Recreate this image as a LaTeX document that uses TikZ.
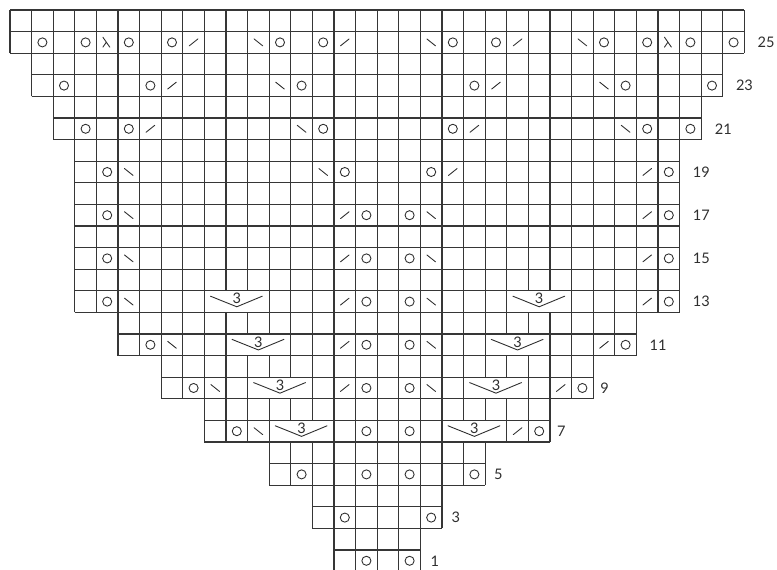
\documentclass[tikz,border=0pt]{standalone}
\usepackage{fontspec}
\setmainfont{Lato}
\usepackage{xcolor}
\definecolor{ink}{HTML}{2E2E2E}
\definecolor{rule}{HTML}{363636}
\tikzset{
  every node/.style={font=\fontsize{11.5}{13}\selectfont,text=ink,inner sep=0pt},
  gridline/.style={draw=rule,line width=0.85pt,step=1},
  symb/.style={draw=ink,line width=0.7pt,line cap=round},
  rowlabel/.style={anchor=west},
  yo/.pic={\draw[symb] (0,0) circle (0.21);},
  ktwotog/.pic={\draw[symb] (-0.2,-0.16) -- (0.2,0.16);},
  sskdec/.pic={\draw[symb] (-0.2,0.16) -- (0.2,-0.16);},
  skpdec/.pic={\draw[symb] (-0.2,0.24) -- (0.12,-0.22) (-0.04,0.01) -- (-0.2,-0.22);},
}
% 3-stitch block: #1 first column, #2 row
\newcommand{\threeblock}[2]{%
  \draw[gridline,fill=white] (#1,#2-1) rectangle ++(3,1);
  \draw[symb] (#1+0.28,#2-0.25) -- (#1+1.5,#2-0.74) -- (#1+2.68,#2-0.25);
  \node (blk#1x#2) at (#1+1.5,#2-0.37) {3};
}

\begin{document}
\begin{tikzpicture}[x=6mm,y=6mm]
\useasboundingbox (-0.463,0.074) rectangle (35.51,26.463);
\clip (-0.463,0.074) rectangle (35.51,26.463);

% grid, two rows at a time, with row numbers
\foreach \r/\lft/\rgt/\off in {1/15/19/0.46,3/14/20/0.43,5/12/22/0.4,7/9/25/0.32,9/7/27/0.32,
  11/5/29/0.6,13/3/31/0.6,15/3/31/0.6,17/3/31/0.6,19/3/31/0.6,21/2/32/0.62,23/1/33/0.6,25/0/34/0.6}{
  \draw[gridline] (\lft,\r-1) grid (\rgt,\r+1);
  \node[rowlabel] (row\r) at (\rgt+\off,\r-0.5) {\r};
}

% 3-stitch blocks
\foreach \c/\r in {9/13,23/13,10/11,22/11,11/9,21/9,12/7,20/7}{
  \threeblock{\c}{\r}
}

% yarn overs
\foreach \c/\r in {1/25,3/25,5/25,7/25,12/25,14/25,20/25,22/25,27/25,29/25,31/25,33/25,
  2/23,6/23,13/23,21/23,28/23,32/23,
  3/21,5/21,14/21,20/21,29/21,31/21,
  4/19,15/19,19/19,30/19,
  4/17,16/17,18/17,30/17,
  4/15,16/15,18/15,30/15,
  4/13,16/13,18/13,30/13,
  6/11,16/11,18/11,28/11,
  8/9,16/9,18/9,26/9,
  10/7,16/7,18/7,24/7,
  13/5,16/5,18/5,21/5,
  15/3,19/3,
  16/1,18/1}
  \pic at (\c+0.5,\r-0.5) {yo};

% right-leaning decreases
\foreach \c/\r in {8/25,15/25,23/25,7/23,22/23,6/21,21/21,20/19,29/19,
  15/17,29/17,15/15,29/15,15/13,29/13,15/11,27/11,15/9,25/9,23/7}
  \pic at (\c+0.5,\r-0.5) {ktwotog};

% left-leaning decreases
\foreach \c/\r in {11/25,19/25,26/25,12/23,27/23,13/21,28/21,5/19,14/19,
  5/17,19/17,5/15,19/15,5/13,19/13,7/11,19/11,9/9,19/9,11/7}
  \pic at (\c+0.5,\r-0.5) {sskdec};

% double decreases
\foreach \c in {4,30}
  \pic at (\c+0.5,24.5) {skpdec};

\end{tikzpicture}
\end{document}
